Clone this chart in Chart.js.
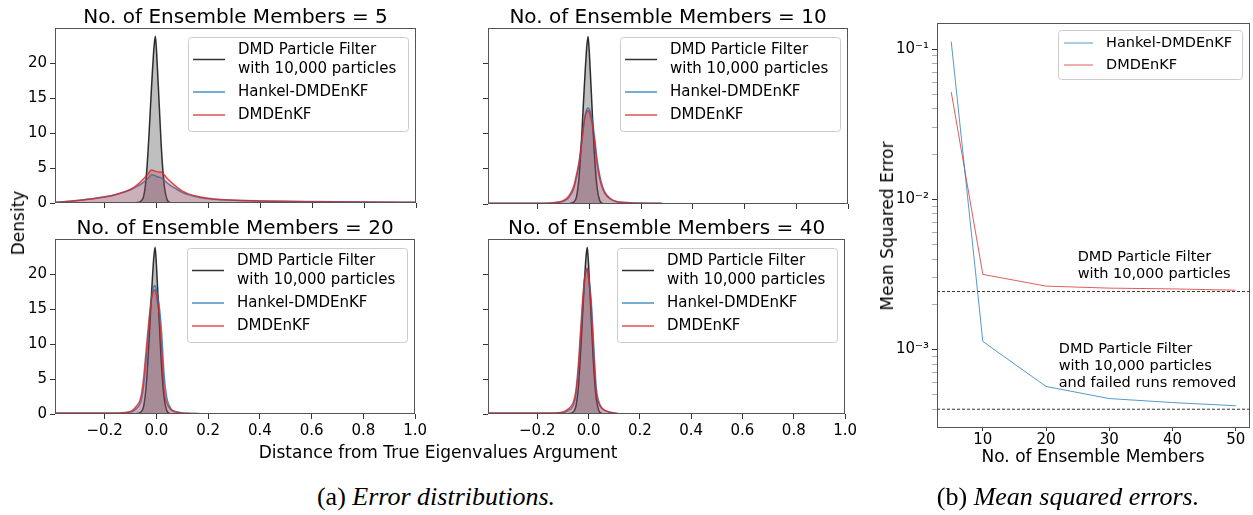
<!DOCTYPE html>
<html>
<head>
<meta charset="utf-8">
<script src="https://cdn.jsdelivr.net/npm/chart.js@4.4.1/dist/chart.umd.min.js"></script>
<style>
  html, body { margin: 0; padding: 0; background: #fff; }
  #fig { position: relative; width: 1253px; height: 515px; overflow: hidden; font-family: "DejaVu Sans", sans-serif; color: #000; }
  #fig canvas { position: absolute; }
  .lbl { position: absolute; white-space: nowrap; transform: translate(-50%, -50%); font-size: 17px; }
  .rot { transform: translate(-50%, -50%) rotate(-90deg); }
  .cap { position: absolute; white-space: nowrap; transform: translate(-50%, -50%); font-family: "Liberation Serif", serif; font-size: 26px; }
</style>
</head>
<body>
<div id="fig">
  <canvas id="p5" width="393" height="470" style="left:860px;top:0px"></canvas>
  <canvas id="p1" width="430" height="215" style="left:0px;top:0px"></canvas>
  <canvas id="p2" width="430" height="215" style="left:430px;top:0px"></canvas>
  <canvas id="p3" width="430" height="260" style="left:0px;top:210px"></canvas>
  <canvas id="p4" width="430" height="260" style="left:430px;top:210px"></canvas>

  <div class="lbl rot" style="left:18px;top:223px">Density</div>
  <div class="lbl" style="left:438px;top:452px">Distance from True Eigenvalues Argument</div>
  <div class="lbl rot" style="left:887px;top:226px">Mean Squared Error</div>
  <div class="lbl" style="left:1093px;top:456px">No. of Ensemble Members</div>

  <div class="cap" style="left:436px;top:497px">(a) <i>Error distributions.</i></div>
  <div class="cap" style="left:1068px;top:497px">(b) <i>Mean squared errors.</i></div>
</div>

<script>
const gridX = [-0.39, -0.3, -0.2, -0.15, -0.1, -0.08, -0.06, -0.05, -0.04, -0.03, -0.02, -0.01, -0.005, 0, 0.01,
  0.02, 0.03, 0.04, 0.05, 0.06, 0.08, 0.1, 0.12, 0.17, 0.22, 0.28, 0.4, 0.6, 0.8, 1.0];

// DMD particle filter (10,000 particles), same curve in every panel
const particleFilter = [null, 0, 0, 0, 0.01, 0.05, 0.3, 1.0, 3.8, 9.5, 16.5, 22.5, 23.9, 21.5, 14,
  6.8, 2.3, 0.5, 0.1, 0.02, 0, null, null, null, null, null, null, null, null, null];

// ensemble members = 5
const hankel5 = [0.1, 0.4, 0.9, 1.3, 1.9, 2.3, 2.7, 3.0, 3.35, 3.7, 4.05, 4.0, 3.9, 3.8, 3.7,
  3.55, 3.2, 2.9, 2.6, 2.35, 1.9, 1.5, 1.2, 0.75, 0.55, 0.42, 0.3, 0.2, 0.14, 0.1];
const dmdenkf5 = [0.1, 0.35, 0.85, 1.3, 2.0, 2.45, 3.1, 3.5, 3.9, 4.35, 4.75, 4.65, 4.55, 4.5, 4.45,
  4.4, 4.0, 3.55, 3.2, 2.85, 2.2, 1.7, 1.35, 0.85, 0.58, 0.42, 0.28, 0.18, 0.13, 0.1];

// ensemble members = 10
const hankel10 = [0.1, 0.1, 0.1, 0.15, 0.4, 0.9, 2.2, 3.8, 5.6, 8.6, 11.8, 13.5, 13.7, 13.5, 12.2,
  9.6, 6.3, 4.1, 2.6, 1.7, 0.8, 0.4, 0.25, 0.15, 0.12, 0.1, null, null, null, null];
const dmdenkf10 = [0.12, 0.12, 0.12, 0.15, 0.5, 1.1, 2.6, 4.2, 6.0, 8.9, 11.8, 13.2, 13.3, 13.0, 11.6,
  8.9, 5.6, 3.6, 2.3, 1.5, 0.75, 0.4, 0.25, 0.16, 0.12, 0.1, null, null, null, null];

// ensemble members = 20
const hankel20 = [0.1, 0.1, 0.1, 0.12, 0.25, 0.7, 1.8, 3.8, 7.5, 12, 16.3, 18.3, 18.4, 17.8, 15.8,
  11.8, 5.5, 2.4, 1.2, 0.6, 0.3, 0.15, 0.1, 0.05, null, null, null, null, null, null];
const dmdenkf20 = [0.15, 0.15, 0.15, 0.15, 0.35, 1.0, 2.4, 5.0, 9.0, 13.0, 16.3, 17.7, 17.8, 16.9, 14.6,
  9.5, 3.5, 1.6, 0.9, 0.5, 0.25, 0.15, 0.1, 0.05, null, null, null, null, null, null];

// ensemble members = 40
const hankel40 = [0.1, 0.1, 0.1, 0.1, 0.2, 0.5, 1.2, 2.6, 6.0, 11.5, 17.2, 20.5, 20.7, 19.8, 16.5,
  10, 3.8, 1.8, 1.0, 0.6, 0.3, 0.15, 0.05, null, null, null, null, null, null, null];
const dmdenkf40 = [0.15, 0.15, 0.15, 0.15, 0.3, 0.7, 1.6, 3.2, 7.0, 12.5, 17.8, 20.7, 20.9, 19.5, 15.5,
  8.5, 3.0, 1.5, 0.9, 0.6, 0.3, 0.15, 0.05, null, null, null, null, null, null, null];

// mean squared errors (right panel)
const ensembleSizes = [5, 10, 20, 30, 40, 50];
const mseHankel = [0.112, 1.13e-3, 5.67e-4, 4.71e-4, 4.43e-4, 4.22e-4];
const mseDmdenkf = [0.0517, 3.16e-3, 2.64e-3, 2.56e-3, 2.53e-3, 2.48e-3];
const msePF = 2.43e-3;
const msePFFiltered = 4.0e-4;

// tick labels
const densityTicks = [0, 5, 10, 15, 20];
const distanceTicks = [-0.2, 0, 0.2, 0.4, 0.6, 0.8, 1.0];
const ensembleTicks = [10, 20, 30, 40, 50];

// axis limits
const distMin = -0.392, distMax = 1.0, densMax = 25.1;
const ensMin = 2.75, ensMax = 52.25, mseMin = 3.02e-4, mseMax = 0.149;

Chart.defaults.font.family = '"DejaVu Sans", sans-serif';
Chart.defaults.color = '#000';

const dark = 'rgba(0,0,0,0.8)', blue = 'rgba(31,119,180,0.8)', red = 'rgba(214,39,40,0.8)';
const darkFill = 'rgba(0,0,0,0.25)', blueFill = 'rgba(31,119,180,0.25)', redFill = 'rgba(214,39,40,0.25)';
const tickFont = {size: 15};

// frame, title, legend box and text notes drawn on top of each panel
const decor = {
  id: 'decor',
  afterDraw(chart, args, o) {
    const ctx = chart.ctx, a = chart.chartArea;
    ctx.save();

    ctx.strokeStyle = '#555';
    ctx.lineWidth = 1;
    ctx.strokeRect(Math.round(a.left) + 0.5, Math.round(a.top) + 0.5,
      Math.round(a.right - a.left) - 1, Math.round(a.bottom - a.top) - 1);

    if (o.title) {
      ctx.fillStyle = '#000';
      ctx.font = '20px "DejaVu Sans"';
      ctx.textAlign = 'center';
      ctx.textBaseline = 'alphabetic';
      ctx.fillText(o.title, (a.left + a.right) / 2, a.top - 5);
    }

    if (o.legend) {
      let L = o.legend;
      let nLines = L.entries.reduce((s, e) => s + e.lines.length, 0);
      let h = L.padTop + nLines * L.lineH + (L.entries.length - 1) * L.gap + L.padBottom;
      let x0 = Math.round(a.right - L.right - L.width), y0 = Math.round(a.top + L.top);
      ctx.beginPath();
      ctx.roundRect(x0 + 0.5, y0 + 0.5, L.width, h, 3);
      ctx.fillStyle = 'rgba(255,255,255,0.8)';
      ctx.fill();
      ctx.strokeStyle = '#cccccc';
      ctx.lineWidth = 1;
      ctx.stroke();

      ctx.font = L.font;
      ctx.textAlign = 'left';
      ctx.textBaseline = 'middle';
      let y = y0 + L.padTop;
      L.entries.forEach(e => {
        let mid = y + e.lines.length * L.lineH / 2;
        ctx.strokeStyle = e.color;
        ctx.lineWidth = L.handleW;
        ctx.beginPath();
        ctx.moveTo(x0 + L.h0, mid);
        ctx.lineTo(x0 + L.h1, mid);
        ctx.stroke();
        ctx.fillStyle = '#000';
        e.lines.forEach((t, k) => ctx.fillText(t, x0 + L.textX, y + L.lineH * (k + 0.5)));
        y += e.lines.length * L.lineH + L.gap;
      });
    }

    if (o.notes) {
      ctx.fillStyle = '#000';
      ctx.font = o.notesFont;
      ctx.textAlign = 'left';
      ctx.textBaseline = 'middle';
      o.notes.forEach(n => {
        let px = chart.scales.x.getPixelForValue(n.x);
        let py = chart.scales.y.getPixelForValue(n.y);
        n.lines.forEach((t, k) => ctx.fillText(t, px, py + k * o.notesLineH));
      });
    }
    ctx.restore();
  }
};

let toPoints = (vals) => gridX.map((x, i) => ({x: x, y: vals[i]})).filter(p => p.y !== null);

let series = (label, vals, color, fillColor, order) => ({
  label: label,
  data: toPoints(vals),
  borderColor: color,
  backgroundColor: fillColor,
  borderWidth: 1.5,
  fill: 'origin',
  pointRadius: 0,
  cubicInterpolationMode: 'monotone',
  order: order
});

let densityLegend = {
  width: 220, right: 8, top: 9, padTop: 3.5, lineH: 19, gap: 4, padBottom: 6.5,
  h0: 5, h1: 37, textX: 50, font: '15px "DejaVu Sans"', handleW: 1.5,
  entries: [
    {lines: ['DMD Particle Filter', 'with 10,000 particles'], color: dark},
    {lines: ['Hankel-DMDEnKF'], color: blue},
    {lines: ['DMDEnKF'], color: red}
  ]
};

let densityChart = (id, n, hankel, dmdenkf, box) => new Chart(document.getElementById(id), {
  type: 'line',
  data: {
    datasets: [
      series('DMDEnKF', dmdenkf, red, redFill, 1),
      series('Hankel-DMDEnKF', hankel, blue, blueFill, 2),
      series('DMD Particle Filter', particleFilter, dark, darkFill, 3)
    ]
  },
  options: {
    responsive: false,
    animation: false,
    layout: {padding: {top: box.top, right: box.right, left: 0, bottom: 0}},
    scales: {
      x: {
        type: 'linear', min: distMin, max: distMax,
        afterBuildTicks: s => { s.ticks = distanceTicks.map(v => ({value: v})); },
        afterFit: s => { s.height = box.xh; },
        border: {display: false},
        grid: {drawOnChartArea: false, tickLength: 5, tickColor: '#333'},
        ticks: {display: box.showX, font: tickFont, color: '#000', padding: 3, maxRotation: 0, autoSkip: false,
          callback: v => v.toFixed(1).replace('-', '\u2212')}
      },
      y: {
        type: 'linear', min: 0, max: densMax,
        afterBuildTicks: s => { s.ticks = densityTicks.map(v => ({value: v})); },
        afterFit: s => { s.width = box.yw; },
        border: {display: false},
        grid: {drawOnChartArea: false, tickLength: 5, tickColor: '#333'},
        ticks: {display: box.showY, font: tickFont, color: '#000', padding: 3, autoSkip: false}
      }
    },
    plugins: {
      legend: {display: false},
      tooltip: {enabled: false},
      decor: {title: 'No. of Ensemble Members = ' + n, legend: densityLegend}
    }
  },
  plugins: [decor]
});

densityChart('p1', 5, hankel5, dmdenkf5, {top: 28, right: 14, yw: 55, xh: 11, showX: false, showY: true});
densityChart('p2', 10, hankel10, dmdenkf10, {top: 28, right: 12, yw: 58, xh: 11, showX: false, showY: false});
densityChart('p3', 20, hankel20, dmdenkf20, {top: 29, right: 14, yw: 55, xh: 56, showX: true, showY: true});
densityChart('p4', 40, hankel40, dmdenkf40, {top: 29, right: 12, yw: 58, xh: 56, showX: true, showY: false});

// log axis ticks: decades get labels, the rest are minor marks
let isDecade = v => Math.abs(Math.log10(v) - Math.round(Math.log10(v))) < 1e-9;
let supDigits = {'-': '\u207B', '0': '\u2070', '1': '\u00B9', '2': '\u00B2', '3': '\u00B3', '4': '\u2074'};
let powLabel = v => isDecade(v) ? '10' + String(Math.round(Math.log10(v))).split('').map(c => supDigits[c]).join('') : '';
let logTicks = [];
for (let e = -4; e <= -1; e++) {
  for (let m = 1; m <= 9; m++) {
    let v = m * Math.pow(10, e);
    if (v >= mseMin && v <= mseMax) logTicks.push(v);
  }
}

new Chart(document.getElementById('p5'), {
  type: 'line',
  data: {
    datasets: [
      {label: 'Hankel-DMDEnKF', data: ensembleSizes.map((x, i) => ({x: x, y: mseHankel[i]})),
        borderColor: 'rgba(31,119,180,0.75)', borderWidth: 1, pointRadius: 0, fill: false},
      {label: 'DMDEnKF', data: ensembleSizes.map((x, i) => ({x: x, y: mseDmdenkf[i]})),
        borderColor: 'rgba(214,39,40,0.75)', borderWidth: 1, pointRadius: 0, fill: false},
      {label: 'PF', data: [{x: ensMin, y: msePF}, {x: ensMax, y: msePF}],
        borderColor: '#000', borderWidth: 0.8, borderDash: [3, 2], pointRadius: 0, fill: false},
      {label: 'PF filtered', data: [{x: ensMin, y: msePFFiltered}, {x: ensMax, y: msePFFiltered}],
        borderColor: '#000', borderWidth: 0.8, borderDash: [3, 2], pointRadius: 0, fill: false}
    ]
  },
  options: {
    responsive: false,
    animation: false,
    layout: {padding: {top: 23, right: 3, left: 0, bottom: 0}},
    scales: {
      x: {
        type: 'linear', min: ensMin, max: ensMax,
        afterBuildTicks: s => { s.ticks = ensembleTicks.map(v => ({value: v})); },
        afterFit: s => { s.height = 42; },
        border: {display: false},
        grid: {drawOnChartArea: false, tickLength: 3, tickColor: '#333'},
        ticks: {font: tickFont, color: '#000', padding: 0, maxRotation: 0, autoSkip: false}
      },
      y: {
        type: 'logarithmic', min: mseMin, max: mseMax,
        afterBuildTicks: s => { s.ticks = logTicks.map(v => ({value: v})); },
        afterFit: s => { s.width = 77; },
        border: {display: false},
        grid: {drawOnChartArea: false, tickLength: 5,
          tickColor: c => isDecade(c.tick.value) ? '#333' : '#999',
          tickWidth: c => isDecade(c.tick.value) ? 1 : 0.8},
        ticks: {font: tickFont, color: '#000', padding: 3, autoSkip: false, callback: v => powLabel(v)}
      }
    },
    plugins: {
      legend: {display: false},
      tooltip: {enabled: false},
      decor: {
        legend: {
          width: 184, right: 8, top: 7, padTop: 4, lineH: 18, gap: 4, padBottom: 5,
          h0: 6, h1: 35, textX: 48, font: '14.5px "DejaVu Sans"', handleW: 1,
          entries: [
            {lines: ['Hankel-DMDEnKF'], color: 'rgba(31,119,180,0.75)'},
            {lines: ['DMDEnKF'], color: 'rgba(214,39,40,0.75)'}
          ]
        },
        notesFont: '14.5px "DejaVu Sans"',
        notesLineH: 17,
        notes: [
          {x: 25, y: 4.1e-3, lines: ['DMD Particle Filter', 'with 10,000 particles']},
          {x: 22, y: 1.0e-3, lines: ['DMD Particle Filter', 'with 10,000 particles', 'and failed runs removed']}
        ]
      }
    }
  },
  plugins: [decor]
});
</script>
</body>
</html>
